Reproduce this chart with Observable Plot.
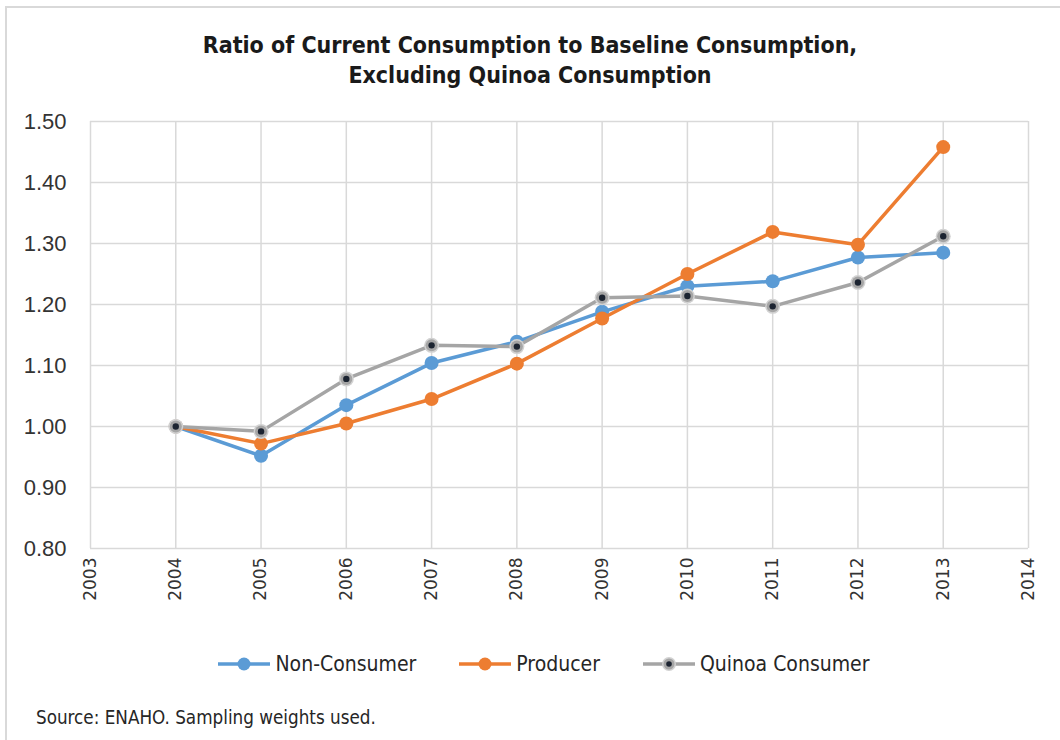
<!DOCTYPE html>
<html>
<head>
<meta charset="utf-8">
<script src="https://cdn.jsdelivr.net/npm/d3@7"></script>
<script src="https://cdn.jsdelivr.net/npm/@observablehq/plot@0.6"></script>
<style>
  html, body { margin: 0; padding: 0; background: #fff; overflow: hidden; }
  body { width: 1060px; height: 740px; position: relative; }
  #frame { position: absolute; left: 5px; top: 6px; width: 1200px; height: 900px;
           border-left: 2px solid #d9d9d9; border-top: 2px solid #d9d9d9; }
  #title { position: absolute; left: 0; top: 30px; width: 1060px; text-align: center;
           font-family: "Liberation Sans Narrow", "DejaVu Sans Condensed", sans-serif;
           font-weight: bold; font-size: 23px; line-height: 30px; color: #1a1a1a; }
  #chart { position: absolute; left: 0; top: 100px; }
  #legend { position: absolute; left: 14px; top: 649px; width: 1060px; height: 30px;
            display: flex; justify-content: center; align-items: center; gap: 43px;
            font-family: "Liberation Sans Narrow", "DejaVu Sans Condensed", sans-serif;
            font-size: 21px; color: #262626; }
  .item { display: flex; align-items: center; }
  .item svg { margin-right: 5px; }
  #caption { position: absolute; left: 36px; top: 705px;
             font-family: "Liberation Sans Narrow", "DejaVu Sans Condensed", sans-serif;
             font-size: 18.7px; line-height: 26px; color: #262626; }
</style>
</head>
<body>
<div id="frame"></div>
<div id="title">Ratio of Current Consumption to Baseline Consumption,<br>Excluding Quinoa Consumption</div>
<div id="chart"></div>
<div id="legend"></div>
<div id="caption">Source: ENAHO. Sampling weights used.</div>
<script>
// ---- data ----
const years = [2004, 2005, 2006, 2007, 2008, 2009, 2010, 2011, 2012, 2013];
const nonConsumer    = [1.000, 0.952, 1.035, 1.104, 1.139, 1.188, 1.230, 1.238, 1.277, 1.285];
const producer       = [1.000, 0.972, 1.005, 1.045, 1.103, 1.177, 1.250, 1.319, 1.298, 1.458];
const quinoaConsumer = [1.000, 0.992, 1.078, 1.133, 1.131, 1.211, 1.214, 1.197, 1.236, 1.312];
const seriesNames  = ["Non-Consumer", "Producer", "Quinoa Consumer"];
const seriesColors = ["#5B9BD5", "#ED7D31", "#A5A5A5"];
const xTicks = [2003, 2004, 2005, 2006, 2007, 2008, 2009, 2010, 2011, 2012, 2013, 2014];
const yTicks = [0.8, 0.9, 1.0, 1.1, 1.2, 1.3, 1.4, 1.5];

const seriesValues = [nonConsumer, producer, quinoaConsumer];
const tables = seriesValues.map((vals, i) =>
  years.map((yr, j) => ({year: yr, value: vals[j], series: seriesNames[i]})));

const marks = [
  Plot.gridX(xTicks, {stroke: "#d9d9d9", strokeOpacity: 1, strokeWidth: 1.5}),
  Plot.gridY(yTicks, {stroke: "#d9d9d9", strokeOpacity: 1, strokeWidth: 1.5}),
  Plot.axisX(xTicks, {tickSize: 0, tickPadding: 9, tickRotate: -90, fontSize: 17,
    fontFamily: "DejaVu Sans", fill: "#333", tickFormat: d => String(d), label: null}),
  Plot.axisY(yTicks, {tickSize: 0, tickPadding: 24, fontSize: 22,
    fontFamily: "Liberation Sans", fill: "#333", tickFormat: d3.format(".2f"), label: null})
];
tables.forEach((t, i) => {
  marks.push(Plot.line(t, {x: "year", y: "value", stroke: seriesColors[i], strokeWidth: 3.5}));
  if (i === 2) {
    marks.push(Plot.dot(t, {x: "year", y: "value", r: 7.5, fill: "#d2d2d2", stroke: "none"}));
    marks.push(Plot.dot(t, {x: "year", y: "value", r: 6, fill: seriesColors[i], stroke: "none"}));
    marks.push(Plot.dot(t, {x: "year", y: "value", r: 3.2, fill: "#1c2431", stroke: "none"}));
  } else {
    marks.push(Plot.dot(t, {x: "year", y: "value", r: 7, fill: seriesColors[i], stroke: "none"}));
  }
});

const chart = Plot.plot({
  width: 1060, height: 520,
  marginLeft: 90, marginRight: 32, marginTop: 21, marginBottom: 72,
  x: {domain: [2003, 2014]},
  y: {domain: [0.8, 1.5]},
  style: {background: "transparent", overflow: "visible"},
  marks
});
document.getElementById("chart").appendChild(chart);

// legend
const legend = document.getElementById("legend");
seriesNames.forEach((name, i) => {
  const item = document.createElement("div");
  item.className = "item";
  const inner = i === 2
    ? `<circle cx="26" cy="10" r="7" fill="#d2d2d2"/><circle cx="26" cy="10" r="5.5" fill="${seriesColors[i]}"/><circle cx="26" cy="10" r="2.8" fill="#1c2431"/>`
    : `<circle cx="26" cy="10" r="6.5" fill="${seriesColors[i]}"/>`;
  item.innerHTML = `<svg width="52" height="20"><line x1="0" x2="52" y1="10" y2="10" stroke="${seriesColors[i]}" stroke-width="3.5"/>${inner}</svg><span>${name}</span>`;
  legend.appendChild(item);
});
</script>
</body>
</html>
